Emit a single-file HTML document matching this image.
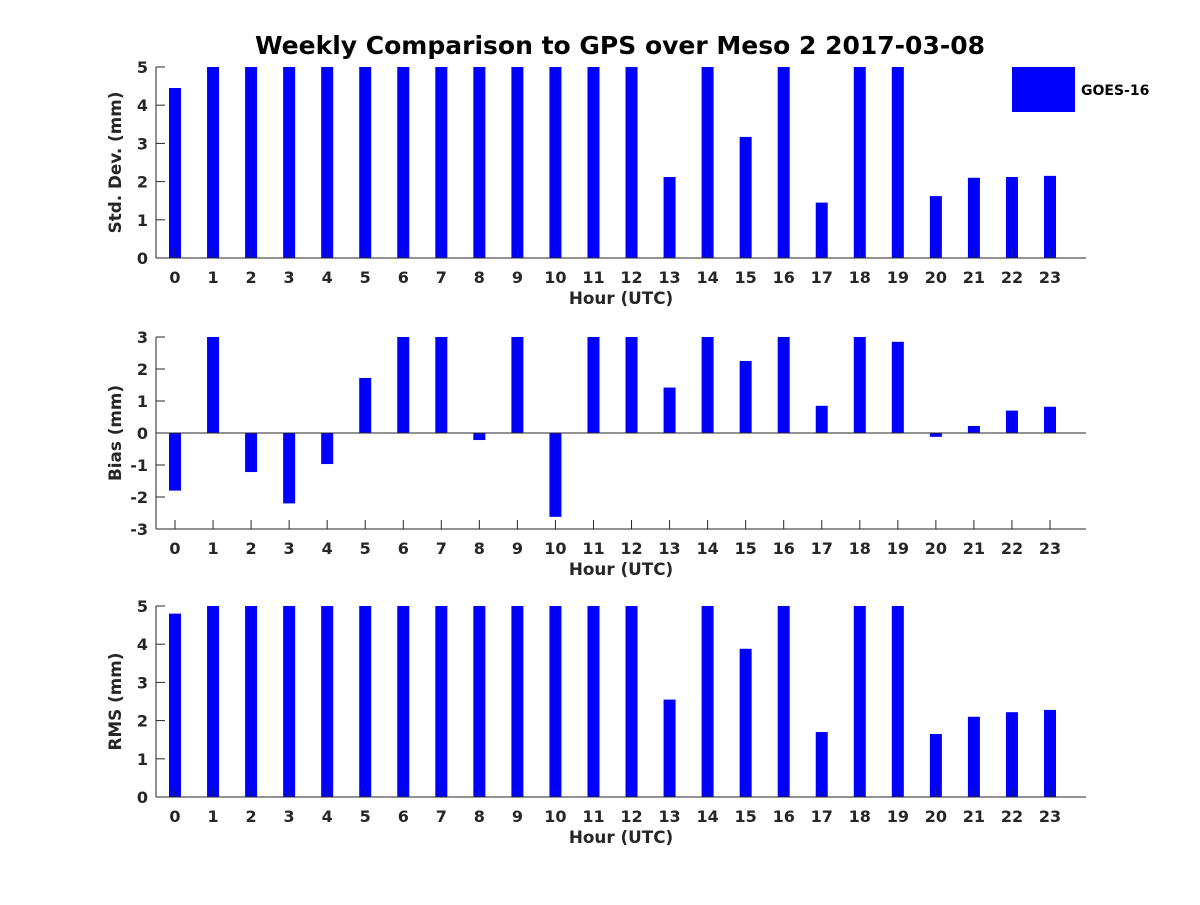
<!DOCTYPE html>
<html><head><meta charset="utf-8"><style>
body{margin:0;background:#fff}
text{font-family:"DejaVu Sans","Liberation Sans",sans-serif;font-weight:bold}
</style></head><body>
<svg id="c" width="1200" height="900" xmlns="http://www.w3.org/2000/svg">
<rect width="1200" height="900" fill="#fff"/>
<text x="620" y="54" text-anchor="middle" font-size="25" fill="#000">Weekly Comparison to GPS over Meso 2 2017-03-08</text>
<rect x="1012" y="67" width="63" height="45" fill="#0000ff"/>
<text x="1081" y="95" font-size="14" fill="#000">GOES-16</text>
</svg>
<script>
const hours=[0,1,2,3,4,5,6,7,8,9,10,11,12,13,14,15,16,17,18,19,20,21,22,23];
const stdVals=[4.45,5,5,5,5,5,5,5,5,5,5,5,5,2.12,5,3.17,5,1.45,5,5,1.62,2.1,2.12,2.15];
const biasVals=[-1.8,3,-1.22,-2.2,-0.97,1.72,3,3,-0.22,3,-2.62,3,3,1.42,3,2.25,3,0.85,3,2.85,-0.12,0.22,0.7,0.82];
const rmsVals=[4.8,5,5,5,5,5,5,5,5,5,5,5,5,2.55,5,3.88,5,1.7,5,5,1.65,2.1,2.22,2.28];
const stdTicks=[0,1,2,3,4,5];
const biasTicks=[-3,-2,-1,0,1,2,3];
const rmsTicks=[0,1,2,3,4,5];
const svg=document.getElementById('c');
const NS='http://www.w3.org/2000/svg';
function mk(tag,attrs,parent){const e=document.createElementNS(NS,tag);for(const k in attrs)e.setAttribute(k,attrs[k]);(parent||svg).appendChild(e);return e;}
const L=156,R=1086;
const xs=h=>175+h*(1050-175)/23;
function panel(name,top,bot,ymin,ymax,vals,ticks,ylabel,zeroLine){
  const g=mk('g',{});
  
  
  const ys=v=>bot-(v-ymin)/(ymax-ymin)*(bot-top);
  const y0=ys(Math.max(ymin,0));
  vals.forEach((v,i)=>{
    const vv=Math.max(ymin,Math.min(ymax,v));
    const a=ys(vv),b=y0;
    const r=mk('rect',{x:xs(hours[i])-6,y:Math.min(a,b),width:12,height:Math.abs(a-b),fill:'#0000ff'},g);
    
    
  });
  mk('line',{x1:L,y1:top,x2:L,y2:bot,stroke:'#262626','stroke-width':1},g);
  mk('line',{x1:L,y1:bot,x2:R,y2:bot,stroke:'#262626','stroke-width':1},g);
  if(zeroLine) mk('line',{x1:L,y1:ys(0),x2:R,y2:ys(0),stroke:'#262626','stroke-width':1},g);
  ticks.forEach(t=>{
    const y=ys(t);
    mk('line',{x1:L,y1:y,x2:L+9,y2:y,stroke:'#262626'},g);
    const tx=mk('text',{x:L-8,y:y+6,'text-anchor':'end','font-size':16,fill:'#262626'},g);
    tx.textContent=t;
    
    
  });
  hours.forEach(h=>{
    const x=xs(h);
    mk('line',{x1:x,y1:bot,x2:x,y2:bot-9,stroke:'#262626'},g);
    const tx=mk('text',{x:x,y:bot+25,'text-anchor':'middle','font-size':16,fill:'#262626'},g);
    tx.textContent=h;
    
    
  });
  const xl=mk('text',{x:621,y:bot+46,'text-anchor':'middle','font-size':16.8,fill:'#262626'},g);
  xl.textContent='Hour (UTC)';
  
  
  const cy=(top+bot)/2;
  const yl=mk('text',{x:0,y:0,'text-anchor':'middle','font-size':16.8,fill:'#262626',transform:`translate(121,${cy}) rotate(-90)`},g);
  yl.textContent=ylabel;
  
  
}
panel('std-dev',67,258,0,5,stdVals,stdTicks,'Std. Dev. (mm)',false);
panel('bias',337,529,-3,3,biasVals,biasTicks,'Bias (mm)',true);
panel('rms',606,797,0,5,rmsVals,rmsTicks,'RMS (mm)',false);
</script>
</body></html>
